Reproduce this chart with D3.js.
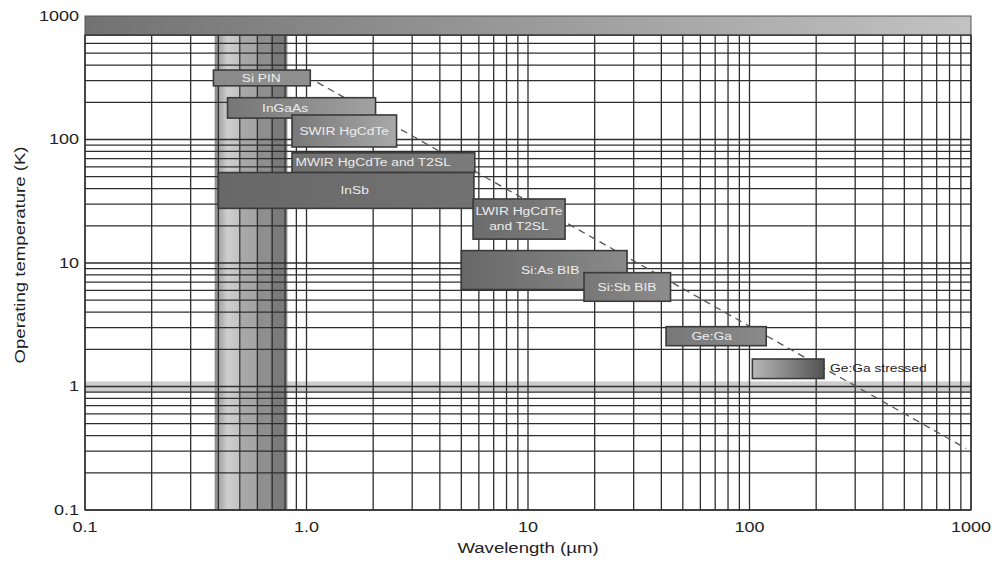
<!DOCTYPE html>
<html>
<head>
<meta charset="utf-8">
<script src="https://cdn.jsdelivr.net/npm/d3@7"></script>
<style>
  html, body { margin: 0; padding: 0; background: #fff; }
  svg { display: block; }
  text { font-family: "Liberation Sans", Arial, sans-serif; }
</style>
</head>
<body>
<svg id="chart" width="994" height="569"></svg>
<script>
// Detector families: spectral range (µm) and operating temperature range (K)
const detectorNames   = ["Si PIN", "InGaAs", "SWIR HgCdTe", "MWIR HgCdTe and T2SL", "InSb",
                         "LWIR HgCdTe\nand T2SL", "Si:As BIB", "Si:Sb BIB", "Ge:Ga", "Ge:Ga stressed"];
const lambdaMin       = [0.38, 0.44, 0.86, 0.86, 0.40, 5.65, 5.0, 17.9, 42, 103];
const lambdaMax       = [1.04, 2.05, 2.55, 5.75, 5.7, 14.7, 28, 44, 119, 217];
const tempMin         = [272, 149, 87, 54, 27.7, 15.6, 6.1, 4.9, 2.14, 1.16];
const tempMax         = [365, 218, 158, 78, 54, 33, 12.6, 8.35, 3.05, 1.67];
const labelLambda     = [0.625, 0.8, 1.48, 2.0, 1.65, 9.1, 12.6, 28, 67.5, 231];
const labelInside     = [true, true, true, true, true, true, true, true, true, false];

// Background regions
const visibleBand     = [0.385, 0.82];          // µm
const visibleSplit    = 0.6;                    // µm, boundary of the darker half
const hotBand         = [700, 1000];            // K, strip along the top
const oneKelvinBand   = [0.9, 1.1];             // K

// Background-limited trend line (two end points, straight on log–log axes)
const trendLine       = [{ lambda: 1.12, temp: 290 }, { lambda: 950, temp: 0.315 }];

// Axes
const xDomain         = [0.1, 1000];
const yDomain         = [0.1, 1000];
const xTickValues     = [0.1, 1, 10, 100, 1000];
const xTickLabels     = ["0.1", "1.0", "10", "100", "1000"];
const yTickValues     = [1000, 100, 10, 1, 0.1];
const yTickLabels     = ["1000", "100", "10", "1", "0.1"];
const xTitle          = "Wavelength (µm)";
const yTitle          = "Operating temperature (K)";

// Box shading (left colour, right colour)
const boxShades = [
  ["#8a8a8a", "#8f8f8f"], ["#767676", "#a2a2a2"], ["#787878", "#a9a9a9"], ["#717171", "#7b7b7b"],
  ["#686868", "#727272"], ["#6c6c6c", "#7c7c7c"], ["#686868", "#8a8a8a"], ["#777777", "#8c8c8c"],
  ["#787878", "#8a8a8a"], ["#b8b8b8", "#525252"]
];

const W = 994, H = 569;
const margin = { left: 85, right: 23, top: 16, bottom: 59 };
const svg = d3.select("#chart");

const x = d3.scaleLog().domain(xDomain).range([margin.left, W - margin.right]);
const y = d3.scaleLog().domain(yDomain).range([H - margin.bottom, margin.top]);
const SX = 1.2; // the lettering is set wide

function wideText(g, px, py, str, opt) {
  opt = opt || {};
  return g.append("text")
    .attr("transform", `translate(${px},${py}) rotate(${opt.rotate || 0}) scale(${SX},1)`)
    .attr("text-anchor", opt.anchor || "middle")
    .attr("dominant-baseline", opt.baseline || "auto")
    .attr("font-size", opt.size || 15)
    .attr("font-weight", opt.weight || "normal")
    .attr("fill", opt.fill || "#222")
    .text(str);
}

const defs = svg.append("defs");

// --- gradients
const gTop = defs.append("linearGradient").attr("id", "gTop").attr("x1", 0).attr("x2", 1);
gTop.append("stop").attr("offset", 0).attr("stop-color", "#727272");
gTop.append("stop").attr("offset", 0.5).attr("stop-color", "#9a9a9a");
gTop.append("stop").attr("offset", 1).attr("stop-color", "#c2c2c2");

const gVisA = defs.append("linearGradient").attr("id", "gVisA").attr("x1", 0).attr("x2", 1);
[[0, "#8a8a8a"], [0.12, "#a8a8a8"], [0.3, "#cfcfcf"], [0.6, "#c0c0c0"], [0.62, "#a9a9a9"], [1, "#a4a4a4"]]
  .forEach(s => gVisA.append("stop").attr("offset", s[0]).attr("stop-color", s[1]));
const gVisB = defs.append("linearGradient").attr("id", "gVisB").attr("x1", 0).attr("x2", 1);
[[0, "#8c8c8c"], [0.4, "#909090"], [0.5, "#7c7c7c"], [0.85, "#7a7a7a"], [1, "#8a8a8a"]]
  .forEach(s => gVisB.append("stop").attr("offset", s[0]).attr("stop-color", s[1]));

boxShades.forEach((c, i) => {
  const g = defs.append("linearGradient").attr("id", "gBox" + i).attr("x1", 0).attr("x2", 1);
  g.append("stop").attr("offset", 0).attr("stop-color", c[0]);
  g.append("stop").attr("offset", 1).attr("stop-color", c[1]);
});

const plotTop = y(hotBand[0]);

// --- background bands
svg.append("rect")
  .attr("x", x(xDomain[0])).attr("width", x(xDomain[1]) - x(xDomain[0]))
  .attr("y", y(oneKelvinBand[1])).attr("height", y(oneKelvinBand[0]) - y(oneKelvinBand[1]))
  .attr("fill", "#cdcdcd");

svg.append("rect")
  .attr("x", x(visibleBand[0])).attr("width", x(visibleSplit) - x(visibleBand[0]))
  .attr("y", plotTop).attr("height", y(yDomain[0]) - plotTop)
  .attr("fill", "url(#gVisA)");
svg.append("rect")
  .attr("x", x(visibleSplit)).attr("width", x(visibleBand[1]) - x(visibleSplit))
  .attr("y", plotTop).attr("height", y(yDomain[0]) - plotTop)
  .attr("fill", "url(#gVisB)");

// --- log grid
const grid = svg.append("g").attr("stroke", "#2e2e2e").attr("stroke-width", 1.3);
const minor = [];
for (let e = -1; e < 3; e++) for (let m = 1; m < 10; m++) minor.push(m * Math.pow(10, e));
minor.push(1000);
const xs = minor.filter(v => v >= xDomain[0] && v <= xDomain[1]);
const ys = minor.filter(v => v >= yDomain[0] && v < hotBand[0]);

grid.selectAll("line.v").data(xs).join("line").attr("class", "v")
  .attr("x1", d => x(d)).attr("x2", d => x(d))
  .attr("y1", plotTop).attr("y2", y(yDomain[0]));
grid.selectAll("line.h").data(ys).join("line").attr("class", "h")
  .attr("x1", x(xDomain[0])).attr("x2", x(xDomain[1]))
  .attr("y1", d => y(d)).attr("y2", d => y(d));

// --- top strip
svg.append("rect")
  .attr("x", x(xDomain[0])).attr("width", x(xDomain[1]) - x(xDomain[0]))
  .attr("y", y(hotBand[1])).attr("height", y(hotBand[0]) - y(hotBand[1]))
  .attr("fill", "url(#gTop)").attr("stroke", "#555").attr("stroke-width", 1);

// --- trend line (under the boxes)
svg.append("path")
  .datum(trendLine)
  .attr("d", d3.line().x(d => x(d.lambda)).y(d => y(d.temp)))
  .attr("fill", "none").attr("stroke", "#555").attr("stroke-width", 1.3)
  .attr("stroke-dasharray", "7,5");

// --- detector boxes
const boxes = svg.append("g");
detectorNames.forEach((name, i) => {
  const x0 = x(lambdaMin[i]), x1 = x(lambdaMax[i]);
  const y0 = y(tempMax[i]), y1 = y(tempMin[i]);
  boxes.append("rect")
    .attr("x", x0).attr("y", y0).attr("width", x1 - x0).attr("height", y1 - y0)
    .attr("fill", `url(#gBox${i})`).attr("stroke", "#3a3a3a").attr("stroke-width", 1.6);
});
detectorNames.forEach((name, i) => {
  const cy = (y(tempMax[i]) + y(tempMin[i])) / 2;
  const lines = name.split("\n");
  const lx = x(labelLambda[i]);
  lines.forEach((ln, k) => {
    const dy = (k - (lines.length - 1) / 2) * 15;
    if (labelInside[i]) {
      wideText(boxes, lx, cy + dy, ln, { size: 11.5, fill: "#ececec", baseline: "central" });
    } else {
      wideText(boxes, lx, cy + dy, ln, { size: 11.5, fill: "#1e1e1e", anchor: "start", baseline: "central" });
    }
  });
});

// --- plot frame
svg.append("rect")
  .attr("x", x(xDomain[0])).attr("y", plotTop)
  .attr("width", x(xDomain[1]) - x(xDomain[0])).attr("height", y(yDomain[0]) - plotTop)
  .attr("fill", "none").attr("stroke", "#2e2e2e").attr("stroke-width", 1.3);

// --- tick labels
const axisText = svg.append("g");
yTickValues.forEach((v, i) => wideText(axisText, 79, y(v), yTickLabels[i], { anchor: "end", baseline: "central", size: 15 }));
xTickValues.forEach((v, i) => wideText(axisText, x(v), 532, xTickLabels[i], { size: 15 }));

// --- axis titles
wideText(axisText, (x(xDomain[0]) + x(xDomain[1])) / 2, 553, xTitle, { size: 15.5 });
wideText(axisText, 25, 255, yTitle, { size: 15.5, rotate: -90 });
</script>
</body>
</html>
